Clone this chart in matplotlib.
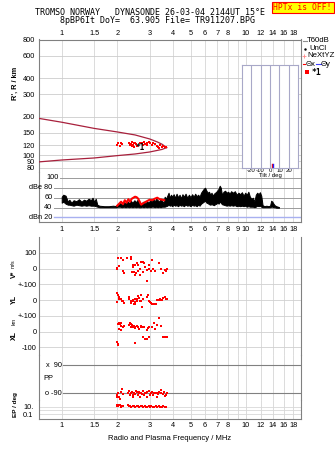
import matplotlib
matplotlib.use('Agg')
import matplotlib.pyplot as plt
from matplotlib.ticker import NullLocator
from matplotlib.patches import Rectangle

# ---------------- data ----------------
freq_grid = [1, 1.5, 2, 3, 4, 5, 6, 7, 8, 9, 10, 12, 14, 16, 18]
freq_labels_top = [1, 1.5, 2, 3, 4, 5, 6, 7, 8, 10, 12, 14, 16, 18]
freq_labels_mid = [1, 1.5, 2, 3, 4, 5, 6, 7, 8, 9, 10, 12, 14, 16, 18]
freq_labels_bot = [1, 1.5, 2, 3, 4, 5, 6, 7, 8, 10, 12, 14, 16, 18]

height_ticks = [800, 600, 400, 300, 200, 150, 120, 100, 90, 80]

# model E-layer trace (MHz, km)
trace_up_f = [0.75, 1.0, 1.5, 2.0, 2.5, 3.0, 3.3, 3.5, 3.71]
trace_up_h = [194, 181, 162, 152, 144, 134, 127, 122, 114.6]
trace_lo_f = [0.75, 1.0, 1.5, 2.0, 2.5, 3.0, 3.5, 3.71]
trace_lo_h = [88.7, 91.8, 95.2, 99.3, 102.3, 106, 111, 114.6]

# echo heights (red squares)
echo_f = [2.03, 2.09, 2.00, 2.08, 2.12, 2.33, 2.37, 2.40, 2.43, 2.46, 2.49, 2.53, 2.55,
          2.40, 2.48, 2.35, 2.66, 2.72, 2.75, 2.80, 2.83, 2.89, 2.91, 2.99, 3.01, 3.08,
          3.14, 3.21, 3.28, 3.34, 3.39, 3.49, 3.56, 3.64, 3.42, 3.70]
echo_h = [124, 125, 119.6, 118, 121.7, 125, 122.5, 127.6, 121, 124, 125, 121.7, 118,
          118, 117, 119.6, 124, 125, 120, 127.6, 122.5, 124.5, 121, 126, 124, 121,
          125, 122.5, 118, 115, 113, 117, 118, 116, 120, 115]
star_f, star_h = 2.66, 114.6

# amplitude (dB) of noise envelope and echo amplitude
noise_f = [1.00, 1.02, 1.05, 1.08, 1.10, 1.13, 1.16, 1.20, 1.24, 1.28, 1.32, 1.36, 1.40, 1.44,
           1.47, 1.50, 1.53, 1.56, 1.60, 1.70, 1.80, 1.90, 1.98, 2.02, 2.07, 2.12, 2.17, 2.22,
           2.27, 2.32, 2.37, 2.42, 2.48, 2.53, 2.58, 2.63, 2.68, 2.73, 2.78, 2.84, 2.90, 2.96,
           3.02, 3.08, 3.14, 3.20, 3.26, 3.32, 3.38, 3.44, 3.50, 3.56, 3.62, 3.68, 3.74, 3.80,
           3.86, 3.92, 3.98, 4.05, 4.12, 4.20, 4.28, 4.36, 4.44, 4.52, 4.60, 4.70, 4.80, 4.90,
           5.00, 5.10, 5.20, 5.30, 5.40, 5.50, 5.60, 5.70, 5.80, 5.90, 6.00, 6.10, 6.20, 6.30,
           6.40, 6.50, 6.60, 6.70, 6.80, 6.90, 7.00, 7.10, 7.20, 7.30, 7.40, 7.55, 7.70, 7.85,
           8.00, 8.15, 8.30, 8.50, 8.70, 8.90, 9.10, 9.30, 9.50, 9.70, 9.90, 10.1, 10.3, 10.5,
           10.7, 10.9, 11.1, 11.3, 11.5, 11.7, 11.9, 12.1, 12.3, 12.6, 12.9, 13.2, 13.5, 13.7,
           13.9, 14.1, 14.3, 14.6, 14.9, 15.1]
noise_top = [62, 66, 64, 52, 56, 50, 55, 53, 57, 52, 56, 54, 58, 55,
             60, 52, 58, 46, 44, 43, 43, 44, 43, 47, 50, 46, 52, 48,
             53, 49, 54, 50, 55, 51, 56, 48, 46, 50, 52, 48, 53, 50,
             55, 52, 57, 53, 58, 55, 52, 58, 54, 49, 62, 58, 64, 70,
             60, 66, 62, 67, 60, 68, 61, 66, 59, 67, 62, 68, 60, 66,
             61, 67, 62, 68, 63, 66, 62, 70, 74, 78, 80, 74, 70, 72,
             66, 70, 64, 68, 70, 72, 75, 78, 84, 80, 66, 72, 74, 70,
             72, 68, 73, 70, 73, 66, 70, 67, 71, 64, 70, 66, 72, 62,
             58, 60, 52, 66, 70, 67, 71, 64, 45, 43, 44, 43, 44, 54,
             52, 48, 45, 43, 42, 41]
noise_bot = [50, 52, 48, 46, 46, 45, 44, 46, 45, 44, 45, 44, 45, 44,
             44, 44, 43, 42, 41, 41, 41, 41, 41, 42, 42, 41, 42, 41,
             42, 41, 42, 41, 42, 41, 42, 41, 41, 42, 41, 42, 41, 42,
             41, 42, 42, 41, 42, 41, 42, 41, 42, 42, 42, 43, 44, 46,
             44, 45, 43, 46, 44, 45, 43, 46, 44, 45, 43, 46, 44, 45,
             43, 46, 44, 45, 43, 46, 44, 48, 50, 52, 54, 50, 49, 47,
             46, 47, 46, 45, 47, 48, 50, 48, 52, 50, 47, 46, 45, 44,
             45, 44, 45, 44, 45, 43, 44, 43, 44, 43, 44, 42, 43, 42,
             42, 42, 41, 42, 44, 43, 44, 42, 41, 41, 41, 41, 41, 42,
             42, 41, 41, 40, 40, 40]
echo_amp_f = [2.00, 2.05, 2.10, 2.15, 2.20, 2.25, 2.30, 2.35, 2.40, 2.45, 2.50, 2.55, 2.60,
              2.65, 2.70, 2.75, 2.80, 2.90, 3.00, 3.10, 3.20, 3.30, 3.40, 3.50, 3.60]
echo_amp_db = [44, 48, 52, 47, 55, 50, 57, 52, 58, 60, 62, 61, 58,
               52, 46, 48, 50, 53, 56, 55, 58, 60, 57, 56, 55]
noise_floor_db = 20.8

# tilt
tilt_ticks = [-20, -10, 0, 10, 20]
tilt_x = 1.8
tilt_y = 3.5

# velocities (MHz, m/s)
vel_ticks = [100, 0, -100, -200, -300, -400, -500]
vel_labels = ['100', '0', '+-100', '0', '+-100', '0', '-100']
vstar_f = [2.03, 2.09, 2.14, 2.26, 2.00, 2.04, 2.00, 2.16, 2.18, 2.37, 2.37, 2.45, 2.43, 2.49,
           2.55, 2.61, 2.68, 2.41, 2.47, 2.53, 2.59, 2.66, 2.75, 2.84, 2.89, 2.96, 3.09, 2.98,
           3.04, 2.66, 2.49, 3.14, 3.22, 3.36, 3.44, 3.56, 3.62, 2.89, 2.77, 2.81, 3.72, 3.68]
vstar_v = [68, 68, 56, 68, 5, 18, -5, -18, -31, 75, 58, 24, 7, 20,
           33, 20, 41, -22, -22, -27, -18, -5, -22, 11, -10, 24, 55, 0,
           -18, -40, -43, -5, -14, 33, 0, -27, -10, -78, 41, 38, -3, -18]
yl_f = [2.00, 2.02, 2.04, 1.99, 2.04, 2.09, 2.13, 2.16, 2.18, 2.31, 2.33, 2.37, 2.39, 2.43,
        2.45, 2.47, 2.49, 2.51, 2.55, 2.57, 2.61, 2.63, 2.66, 2.68, 2.70, 2.77, 2.89, 2.94,
        2.96, 3.01, 3.04, 3.09, 3.18, 3.23, 2.72, 3.28, 3.36, 3.40, 3.45, 3.50, 3.55, 3.64,
        2.51, 3.71, 3.68]
yl_v = [46, 34, 21, -13, 4.5, 8, -4, -8, -17, 21, 8, -4, -17, 0,
        -8, -25, -13, 4.5, -4, 8, 25, 13, -8, -4, 30, 4.5, 21, 30,
        -4, -13, -21, -25, -25, -25, -42, 0, 0, 8, 0, 0, 13, 21,
        -25, 5, 10]
xl_f = [2.03, 2.04, 2.07, 2.10, 2.04, 2.10, 2.14, 2.18, 2.31, 2.35, 2.37, 2.39, 2.41, 2.45,
        2.47, 2.49, 2.51, 2.55, 2.59, 2.64, 2.68, 2.70, 2.75, 2.81, 2.89, 2.94, 2.98, 3.09,
        3.17, 3.20, 3.30, 3.36, 3.47, 3.53, 3.59, 3.65, 3.70, 3.74, 2.77, 2.83, 2.89, 2.96,
        2.49, 2.00, 2.02, 2.03, 2.09]
xl_v = [48, 52, 48, 56, 14, 35, 27, 35, 43, 52, 31, 48, 40, 27,
        35, 22.5, 31, 35, 27, 18, 27, 35, 31, 27, 10, 22.5, 31, 31,
        52, 18, 40, 86, 35, -33, -33, -33, -33, -33, -33, -45, -49, -37,
        -75, -66, -79, -87, 10]

# polarisation (deg) and EP (deg)
pp_f = [1.99, 2.02, 2.05, 2.09, 2.12, 2.16, 2.28, 2.33, 2.37, 2.41, 2.43, 2.47, 2.51, 2.55,
        2.59, 2.64, 2.70, 2.75, 2.79, 2.86, 2.91, 2.96, 3.04, 3.09, 3.14, 3.22, 3.30, 3.38,
        3.47, 3.53, 3.62, 3.68, 3.71, 2.00, 2.07, 2.45, 2.66, 2.89, 3.28, 2.35, 2.53, 2.62,
        2.72, 2.82, 3.00, 3.18, 3.34, 3.44, 3.57]
pp_v = [-101, -90, -111, -80, -65, -94, -90, -73, -90, -82, -103, -86, -94, -82,
        -99, -90, -86, -73, -99, -90, -82, -73, -90, -82, -99, -86, -90, -82,
        -69, -94, -107, -99, -90, -116, -124, -116, -111, -111, -111, -99, -78, -82,
        -94, -86, -99, -90, -94, -86, -82]
ep_f = [1.99, 2.02, 2.05, 2.09, 2.12, 2.16, 2.28, 2.31, 2.35, 2.39, 2.43, 2.47, 2.51, 2.55,
        2.59, 2.64, 2.68, 2.73, 2.77, 2.82, 2.86, 2.91, 2.96, 3.01, 3.06, 3.12, 3.18, 3.24,
        3.30, 3.36, 3.42, 3.48, 3.55, 3.62, 3.68, 2.00, 2.07]
ep_v = [20, 12, 25, 10, 18, 14, 22, 12, 16, 9, 20, 14, 11, 18,
        13, 9, 16, 12, 10, 15, 11, 9, 13, 10, 14, 11, 9, 12,
        10, 13, 11, 9, 12, 10, 11, 35, 30]

# ---------------- figure ----------------
W, H = 335, 451
fig = plt.figure(figsize=(W / 100, H / 100), dpi=100)
fig.patch.set_facecolor('white')
plt.rcParams['font.family'] = ['Liberation Sans', 'DejaVu Sans']

FMIN, FMAX = 0.753, 19.88
GRIDV = '#d6d6d6'
SPINE = '#808080'
TS = 5.3
RED = '#ff0000'
TRACE = '#a8203c'


def add_px(x0, y0, x1, y1):
    return fig.add_axes([x0 / W, 1 - y1 / H, (x1 - x0) / W, (y1 - y0) / H])


def fmt(f):
    return ('%g' % f)


def setup(ax, spines_on):
    ax.set_xscale('log')
    ax.set_xlim(FMIN, FMAX)
    ax.xaxis.set_minor_locator(NullLocator())
    ax.set_xticks([])
    for f in freq_grid:
        ax.axvline(f, color=GRIDV, lw=0.6, zorder=0)
    for s in ['left', 'right', 'top', 'bottom']:
        ax.spines[s].set_visible(s in spines_on)
        ax.spines[s].set_color(SPINE)
        ax.spines[s].set_linewidth(0.8)
    ax.tick_params(length=0, labelsize=TS)
    ax.patch.set_alpha(0)


# height panel
axH = add_px(39, 39.5, 301, 172)
setup(axH, ['left', 'right', 'top'])
axH.set_yscale('log')
axH.set_ylim(74, 800)
axH.yaxis.set_minor_locator(NullLocator())
axH.set_yticks(height_ticks)
axH.set_yticklabels([str(h) for h in height_ticks])
axH.tick_params(axis='y', pad=3)
for h in height_ticks:
    axH.axhline(h, color='#cccccc', lw=0.6, zorder=0)
axH.xaxis.tick_top()
axH.set_xticks(freq_labels_top)
axH.set_xticklabels([fmt(f) for f in freq_labels_top])
axH.tick_params(axis='x', pad=2.0, top=True, length=0)
axH.plot(trace_up_f, trace_up_h, color=TRACE, lw=0.9, zorder=3)
axH.plot(trace_lo_f, trace_lo_h, color=TRACE, lw=0.9, zorder=3)
axH.plot(echo_f, echo_h, 's', color=RED, ms=1.8, mew=0, zorder=4)
axH.text(star_f, star_h, '*1', family='DejaVu Sans Mono', fontweight='bold',
         fontsize=5.5, ha='center', va='center', zorder=5)

# amplitude panel
axD = add_px(39, 172, 301, 221.5)
setup(axD, ['left', 'right', 'bottom'])
axD.set_ylim(12.4, 111.4)
axD.set_yticks([])
for v, lab, x0 in [(100, '100', 0.079), (80, 'dBe 80', 0.056), (60, '60', 0.056),
                   (40, '40', 0.056)]:
    axD.axhline(v, xmin=x0, color='#9a9a9a', lw=0.7, zorder=0)
    axD.text(x0 - 0.004, v, lab, transform=axD.get_yaxis_transform(),
             ha='right', va='center', fontsize=TS)
axD.axhline(noise_floor_db, xmin=0.056, color='#a8b0f0', lw=1.0, zorder=1)
axD.text(0.052, 20, 'dBn 20', transform=axD.get_yaxis_transform(),
         ha='right', va='center', fontsize=TS)
axD.fill_between(noise_f, noise_bot, noise_top, color='black', lw=0.7,
                 edgecolor='black', zorder=2)
axD.plot(echo_amp_f, echo_amp_db, color=RED, lw=1.5, zorder=3)
axD.set_xticks(freq_labels_mid)
axD.set_xticklabels([fmt(f) for f in freq_labels_mid])
axD.tick_params(axis='x', pad=3.5)

# velocity panel
axV = add_px(39, 237, 301, 355.3)
setup(axV, ['left', 'right'])
axV.set_ylim(-550, 200)
axV.set_yticks(vel_ticks)
axV.set_yticklabels(vel_labels)
axV.tick_params(axis='y', pad=1.8)
for v in vel_ticks:
    axV.axhline(v, color='#d0d0d0', lw=0.6, zorder=0)
axV.plot(vstar_f, vstar_v, 's', color=RED, ms=1.7, mew=0, zorder=3)
axV.plot(yl_f, [v - 200 for v in yl_v], 's', color=RED, ms=1.7, mew=0, zorder=3)
axV.plot(xl_f, [v - 400 for v in xl_v], 's', color=RED, ms=1.7, mew=0, zorder=3)

# polarisation panel
axP = add_px(39, 355.3, 301, 400)
setup(axP, ['left', 'right'])
axP.set_ylim(-132.6, 151.7)
axP.set_yticks([])
for v, lab in [(90, 'x  90'), (-90, 'o -90')]:
    axP.axhline(v, xmin=0.09, color='#808080', lw=0.8, zorder=0)
    axP.text(0.086, v, lab, transform=axP.get_yaxis_transform(),
             ha='right', va='center', fontsize=TS)
axP.text(0.015, 1, 'PP', transform=axP.get_yaxis_transform(),
         ha='left', va='center', fontsize=TS)
axP.plot(pp_f, pp_v, 's', color=RED, ms=1.7, mew=0, zorder=3)

# EP panel
axE = add_px(39, 400, 301, 419)
setup(axE, ['left', 'right', 'bottom'])
axE.set_yscale('log')
axE.set_ylim(0.0043, 685)
axE.yaxis.set_minor_locator(NullLocator())
axE.set_yticks([10, 0.1])
axE.set_yticklabels(['10.', '0.1'])
axE.tick_params(axis='y', pad=4)
for v in [10, 1, 0.1]:
    axE.axhline(v, color='#d8d8d8', lw=0.6, zorder=0)
axE.plot(ep_f, ep_v, 's', color=RED, ms=1.7, mew=0, zorder=3)
axE.set_xticks(freq_labels_bot)
axE.set_xticklabels([fmt(f) for f in freq_labels_bot])
axE.tick_params(axis='x', pad=2.5)

# tilt inset
axT = add_px(241.7, 65, 298.3, 167.7)
axT.set_xlim(-30, 30)
axT.set_ylim(0, 1)
axT.set_facecolor('white')
for s in axT.spines.values():
    s.set_color('#a8a8c8')
    s.set_linewidth(0.8)
for t in tilt_ticks:
    axT.axvline(t, color='#a8a8c8', lw=0.8)
axT.set_yticks([])
axT.set_xticks(tilt_ticks)
axT.set_xticklabels([str(t) for t in tilt_ticks])
axT.tick_params(length=0, labelsize=4.3, pad=0.5)
axT.set_xlabel('Tilt / deg', fontsize=4.3, labelpad=0)
axT.plot([tilt_x, tilt_x], [0, 0.04], color=RED, lw=1.0)
axT.plot([tilt_y, tilt_y], [0, 0.04], color='#2020ff', lw=1.0)

# overlay for titles / legend / labels
ov = fig.add_axes([0, 0, 1, 1])
ov.set_xlim(0, W)
ov.set_ylim(H, 0)
ov.axis('off')
ov.set_zorder(10)
ov.patch.set_alpha(0)

ov.text(35, 12.3, 'TROMSO NORWAY   DYNASONDE 26-03-04 2144UT 15\u00b0E',
        family='DejaVu Sans Mono', fontsize=6.0, ha='left', va='center')
ov.text(60, 20.2, '8pBP6It DoY=  63.905 File= TR911207.BPG',
        family='DejaVu Sans Mono', fontsize=6.0, ha='left', va='center')
ov.add_patch(Rectangle((271.5, 1.5), 62, 11, facecolor='#ffff00', edgecolor=RED, lw=0.8))
ov.text(302.5, 7.2, 'HPTx is OFF!', family='DejaVu Sans Mono', fontsize=5.8,
        color=RED, ha='center', va='center')

LS = 5.6
ov.plot([302.7, 306.7], [40.7, 40.7], color='#909090', lw=0.8)
ov.text(307.3, 40.7, 'T60dB', fontsize=LS, va='center')
ov.plot([305], [49], '.', color='black', ms=1.5)
ov.text(309.3, 49, 'UnCl', fontsize=LS, va='center')
ov.plot([304.3], [55.7], '+', color='#ff8888', ms=3, mew=0.6)
ov.text(307.3, 55.7, 'NeXtYZ', fontsize=LS, va='center')
ov.plot([302.7, 305.2], [64, 64], color=RED, lw=0.8)
ov.text(305.5, 64, '\u0398x', fontsize=LS, va='center')
ov.plot([315.5, 320.5], [64, 64], color='#4040ff', lw=0.8)
ov.text(320.8, 64, '\u0398y', fontsize=LS, va='center')
ov.plot([306.7], [72.3], 's', color=RED, ms=2.4, mew=0)
ov.text(311.5, 72.5, '*1', family='DejaVu Sans Mono', fontweight='bold',
        fontsize=5.8, va='center')

YS = 5.0
ov.text(15, 83.5, "R', R / km", rotation=90, fontsize=5.3, fontweight='bold',
        ha='center', va='center')
ov.text(14, 274.5, 'V*', rotation=90, fontsize=YS, fontweight='bold', ha='center', va='center')
ov.text(13.5, 263.5, 'm/s', rotation=90, fontsize=3.8, ha='center', va='center')
ov.text(14, 299.5, 'YL', rotation=90, fontsize=YS, fontweight='bold', ha='center', va='center')
ov.text(14, 321, 'km', rotation=90, fontsize=3.8, ha='center', va='center')
ov.text(14, 336, 'XL', rotation=90, fontsize=YS, fontweight='bold', ha='center', va='center')
ov.text(15.5, 405, 'EP / deg', rotation=90, fontsize=4.6, fontweight='bold',
        ha='center', va='center')
ov.text(170, 439, 'Radio and Plasma Frequency / MHz', fontsize=5.5,
        ha='center', va='center')

fig.savefig('out.png', dpi=100, facecolor='white')
